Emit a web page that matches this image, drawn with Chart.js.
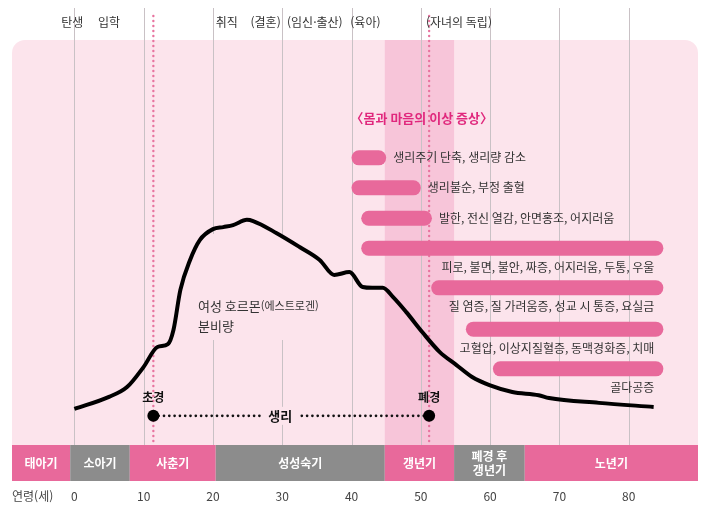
<!DOCTYPE html>
<html lang="ko">
<head>
<meta charset="utf-8">
<script src="https://cdn.jsdelivr.net/npm/chart.js@4.4.1/dist/chart.umd.min.js"></script>
<style>
  html, body { margin: 0; padding: 0; background: #ffffff; }
  #wrap { width: 714px; height: 513px; }
</style>
</head>
<body>
<div id="wrap"><canvas id="lifeChart" width="714" height="513"></canvas></div>
<script>
// 연령(세) 눈금
const ageTicks = [0, 10, 20, 30, 40, 50, 60, 70, 80];

// 생애 사건 (상단 라벨)
const lifeEvents = ["탄생", "입학", "취직", "(결혼)", "(임신·출산)", "(육아)", "(자녀의 독립)"];
const lifeEventAges = [-0.3, 5, 22, 27.6, 34.7, 42, 55.5];

// 생애 단계 (하단 띠)
const stageNames = ["태아기", "소아기", "사춘기", "성성숙기", "갱년기", "폐경 후\n갱년기", "노년기"];
const stageBounds = [-9, -0.6, 8, 20.4, 44.8, 54.8, 65, 90];

// 여성 호르몬(에스트로겐) 분비량 곡선
const hormoneAges = [0, 5, 7.6, 10, 12, 13.5, 14.3, 15.3, 16.7, 18.1, 20, 21.5, 22.9, 24.9, 25.8,
  29.2, 32.5, 35.4, 37.5, 39.7, 41.6, 43, 44.5, 46, 47.9, 50.2, 52.7, 55.1, 57.4, 59.9, 63.2, 67,
  68.5, 75.7, 83.6];
const hormoneLevels = [8.9, 11.9, 14.3, 19.3, 24.2, 24.9, 28.4, 38.3, 45.7, 50.6, 53.3, 53.8, 54.3, 55.6, 55.3,
  52.3, 48.9, 45.7, 42.0, 42.7, 39.0, 38.8, 38.8, 36.5, 32.8, 27.9, 23.0, 19.8, 16.8, 14.8, 13.1, 12.3,
  11.6, 10.4, 9.4];

// 초경, 폐경 나이
const menarcheAge = 11.4;
const menopauseAge = 51.2;
const menstruationLevel = 7.2;
const menstruationLabelAge = 29.7;

// 몸과 마음의 이상 증상
const symptomNames = [
  "생리주기 단축, 생리량 감소",
  "생리불순, 부정 출혈",
  "발한, 전신 열감, 안면홍조, 어지러움",
  "피로, 불면, 불안, 짜증, 어지러움, 두통, 우울",
  "질 염증, 질 가려움증, 성교 시 통증, 요실금",
  "고혈압, 이상지질혈증, 동맥경화증, 치매",
  "골다공증",
];
const symptomStart = [40, 40, 41.4, 41.4, 51.5, 56.5, 60.4];
const symptomEnd = [45, 50, 51.6, 85, 85, 85, 85];
const symptomLevels = [70.9, 63.5, 56.0, 48.6, 38.8, 28.6, 18.8];

const FONT = "'Noto Sans CJK KR', 'Noto Sans', sans-serif";
const PINK = "#e8699b";
const GRAY = "#8c8c8c";
const BG_PINK = "#fce4ec";
const BAND_PINK = "#f7c5d9";
const BAR_H = 15;
const CAP = 1.08; // 둥근 끝 반지름(년)

const hormoneData = hormoneAges.map((a, i) => ({ x: a, y: hormoneLevels[i] }));

const symptomSets = symptomNames.map((name, i) => ({
  label: name,
  data: [
    { x: symptomStart[i] + CAP, y: symptomLevels[i] },
    { x: symptomEnd[i] - CAP, y: symptomLevels[i] },
  ],
  borderColor: PINK,
  borderWidth: BAR_H,
  borderCapStyle: "round",
  pointRadius: 0,
  order: 3,
}));

const backdrop = {
  id: "backdrop",
  beforeDatasetsDraw(chart) {
    const { ctx, chartArea: ca, scales } = chart;
    const x = scales.x;
    ctx.save();
    // 연분홍 배경
    ctx.fillStyle = BG_PINK;
    ctx.beginPath();
    ctx.roundRect(ca.left, ca.top, ca.right - ca.left, ca.bottom - ca.top, [13, 13, 0, 0]);
    ctx.fill();
    // 갱년기 띠
    ctx.fillStyle = BAND_PINK;
    ctx.fillRect(x.getPixelForValue(stageBounds[4]), ca.top,
      x.getPixelForValue(stageBounds[5]) - x.getPixelForValue(stageBounds[4]), ca.bottom - ca.top);
    // 세로 격자
    ctx.strokeStyle = "#c9c1c5";
    ctx.lineWidth = 1;
    ageTicks.forEach((a) => {
      const px = Math.round(x.getPixelForValue(a)) + 0.5;
      ctx.beginPath();
      ctx.moveTo(px, 8);
      ctx.lineTo(px, ca.bottom);
      ctx.stroke();
    });
    // 라벨 뒤 가림
    ctx.fillStyle = BG_PINK;
    ctx.fillRect(195, 234, 110, 106);
    // 초경/폐경 점선
    ctx.fillStyle = "#e8739f";
    [menarcheAge, menopauseAge].forEach((a) => {
      const px = x.getPixelForValue(a);
      for (let py = 16; py < ca.bottom; py += 5) {
        ctx.beginPath();
        ctx.arc(px, py, 1.2, 0, Math.PI * 2);
        ctx.fill();
      }
    });
    ctx.restore();
  },
  afterDatasetsDraw(chart) {
    const { ctx, chartArea: ca, scales } = chart;
    const x = scales.x;
    const y = scales.y;
    ctx.save();
    ctx.textBaseline = "middle";

    // 생리 라벨
    const midX = x.getPixelForValue(menstruationLabelAge);
    const my = y.getPixelForValue(menstruationLevel);
    ctx.fillStyle = BG_PINK;
    ctx.fillRect(midX - 19, my - 9, 38, 18);
    ctx.fillStyle = "#111";
    ctx.font = "bold 13px " + FONT;
    ctx.textAlign = "center";
    ctx.fillText("생리", midX, my);

    // 초경/폐경 라벨
    ctx.font = "bold 12px " + FONT;
    ctx.fillText("초경", x.getPixelForValue(menarcheAge), 397);
    ctx.fillText("폐경", x.getPixelForValue(menopauseAge), 397);

    // 상단 생애 사건
    ctx.font = "12px " + FONT;
    ctx.fillStyle = "#333";
    lifeEvents.forEach((t, i) => ctx.fillText(t, x.getPixelForValue(lifeEventAges[i]), 22));

    // 증상 제목
    ctx.textAlign = "left";
    ctx.font = "bold 13px " + FONT;
    ctx.fillStyle = "#e0287d";
    ctx.fillText("〈몸과 마음의 이상 증상〉", x.getPixelForValue(40) - 1, 118);

    // 증상 라벨
    ctx.font = "12px " + FONT;
    ctx.fillStyle = "#333";
    symptomNames.forEach((t, i) => {
      const py = y.getPixelForValue(symptomLevels[i]);
      if (i < 3) {
        ctx.textAlign = "left";
        ctx.fillText(t, x.getPixelForValue(symptomEnd[i]) + 7, py);
      } else {
        ctx.textAlign = "right";
        ctx.fillText(t, x.getPixelForValue(symptomEnd[i]) - 9, py + 19);
      }
    });

    // 호르몬 라벨
    ctx.textAlign = "left";
    ctx.font = "13px " + FONT;
    const lx = 198;
    ctx.fillText("여성 호르몬", lx, 306);
    const w = ctx.measureText("여성 호르몬").width;
    ctx.font = "11px " + FONT;
    ctx.fillText("(에스트로겐)", lx + w, 306);
    ctx.font = "13px " + FONT;
    ctx.fillText("분비량", lx, 326);

    // 생애 단계 띠
    const top = ca.bottom;
    const h = 36;
    stageNames.forEach((name, i) => {
      const x0 = x.getPixelForValue(stageBounds[i]);
      const x1 = x.getPixelForValue(stageBounds[i + 1]);
      ctx.fillStyle = i % 2 === 0 ? PINK : GRAY;
      ctx.fillRect(x0, top, x1 - x0, h);
      ctx.fillStyle = "#ffffff";
      ctx.font = "bold 12px " + FONT;
      ctx.textAlign = "center";
      const lines = name.split("\n");
      lines.forEach((ln, k) => {
        ctx.fillText(ln, (x0 + x1) / 2, top + h / 2 + (k - (lines.length - 1) / 2) * 14);
      });
    });

    // 연령 눈금
    ctx.fillStyle = "#444";
    ctx.font = "12px " + FONT;
    ctx.textAlign = "left";
    ctx.fillText("연령(세)", 12, 496);
    ctx.textAlign = "center";
    ageTicks.forEach((a) => ctx.fillText(String(a), x.getPixelForValue(a), 496));
    ctx.restore();
  },
};

document.addEventListener("DOMContentLoaded", () => {
  const ctx = document.getElementById("lifeChart").getContext("2d");
  new Chart(ctx, {
    type: "line",
    data: {
      datasets: [
        {
          label: "생리",
          data: [
            { x: menarcheAge, y: menstruationLevel },
            { x: menopauseAge, y: menstruationLevel },
          ],
          borderColor: "#111",
          borderWidth: 2.6,
          borderDash: [0.1, 5.2],
          borderCapStyle: "round",
          pointRadius: 6,
          pointBackgroundColor: "#000",
          pointBorderWidth: 0,
          order: 1,
        },
        {
          label: "여성 호르몬(에스트로겐) 분비량",
          data: hormoneData,
          borderColor: "#000",
          borderWidth: 4,
          cubicInterpolationMode: "monotone",
          pointRadius: 0,
          order: 2,
        },
        ...symptomSets,
      ],
    },
    options: {
      responsive: false,
      animation: false,
      layout: { padding: { left: 12, right: 16, top: 40, bottom: 68 } },
      plugins: { legend: { display: false }, tooltip: { enabled: false } },
      scales: {
        x: { type: "linear", min: -9, max: 90, display: false },
        y: { min: 0, max: 100, display: false },
      },
    },
    plugins: [backdrop],
  });
});
</script>
</body>
</html>
